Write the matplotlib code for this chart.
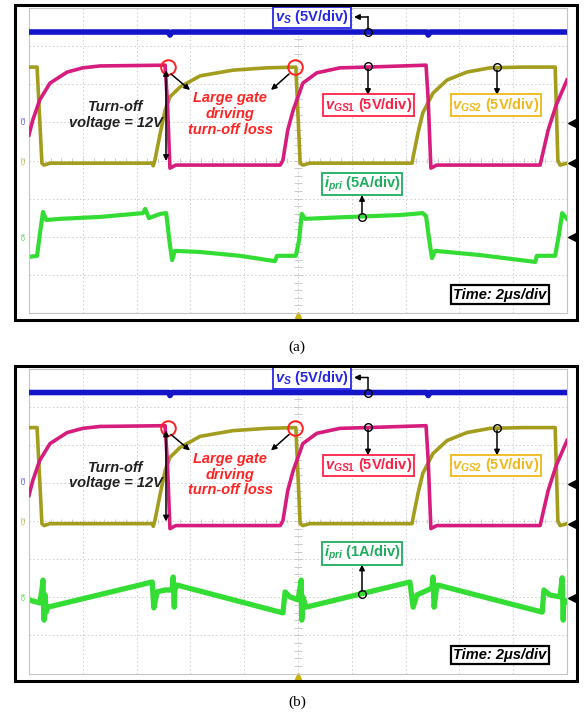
import numpy as np
import matplotlib
matplotlib.use("Agg")
import matplotlib.pyplot as plt
from matplotlib.patches import Rectangle

plt.rcParams['font.family'] = ['Liberation Sans', 'DejaVu Sans']
plt.rcParams['mathtext.fontset'] = 'custom'
plt.rcParams['mathtext.it'] = 'Liberation Sans:italic:bold'
plt.rcParams['mathtext.rm'] = 'Liberation Sans:bold'
plt.rcParams['mathtext.bf'] = 'Liberation Sans:bold'

W, H = 587, 716

# Scope traces in graticule divisions (10 x 8)
vs_t = [0, 2.60, 2.62, 2.66, 7.40, 7.42, 7.46, 10]
vs_v = [7.37, 7.37, 7.29, 7.37, 7.37, 7.29, 7.37, 7.37]

vgs1_t = [0, 0.07, 0.20, 0.39, 0.71, 1.00, 1.32, 2.53, 2.57, 2.62, 2.73,
          4.67, 4.72, 4.81, 4.91, 4.98, 5.09, 5.35, 5.78, 6.28, 7.38, 7.42,
          7.47, 7.58, 9.50, 9.65, 9.80, 10]
vgs1_v = [4.67, 5.06, 5.59, 6.03, 6.32, 6.43, 6.48, 6.50, 5.59, 3.80, 3.88,
          3.88, 4.01, 4.80, 5.32, 5.59, 6.03, 6.30, 6.43, 6.45, 6.50, 5.59,
          3.80, 3.88, 3.88, 4.80, 5.46, 6.11]

vgs2_t = [0, 0.15, 0.24, 0.28, 0.39, 2.29, 2.31, 2.34, 2.44, 2.53, 2.62,
          2.81, 3.18, 3.79, 4.42, 4.96, 5.04, 5.09, 5.22, 7.12, 7.14, 7.23,
          7.32, 7.51, 7.77, 8.14, 8.57, 9.18, 9.78, 9.83, 9.87, 10]
vgs2_v = [6.45, 6.45, 3.93, 3.88, 3.93, 3.93, 3.86, 4.01, 4.72, 5.32, 5.67,
          5.93, 6.22, 6.37, 6.43, 6.45, 3.93, 3.88, 3.93, 3.93, 4.09, 4.72,
          5.25, 5.77, 6.11, 6.32, 6.43, 6.45, 6.45, 4.01, 3.88, 3.93]

ipri_a_t = [0, 0.15, 0.20, 0.26, 0.32, 0.58, 1.32, 2.12, 2.16, 2.23, 2.44,
            2.55, 2.62, 2.66, 2.71, 3.18, 3.92, 4.57, 4.61, 4.96, 5.02, 5.07,
            5.13, 5.97, 6.90, 7.32, 7.38, 7.44, 7.49, 7.55, 8.38, 9.41, 9.44,
            9.78, 9.85, 9.91, 10]
ipri_a_v = [1.47, 1.50, 2.05, 2.65, 2.44, 2.47, 2.52, 2.62, 2.73, 2.49, 2.60,
            2.62, 1.78, 1.39, 1.63, 1.60, 1.50, 1.36, 1.50, 1.50, 1.91, 2.60,
            2.47, 2.52, 2.57, 2.62, 2.54, 1.91, 1.44, 1.63, 1.52, 1.34, 1.50,
            1.50, 2.05, 2.62, 2.47]

ipri_b_t = [0, 0.20, 0.24, 0.26, 0.28, 0.30, 0.32, 0.35, 2.29, 2.32, 2.38,
            2.53, 2.66, 2.68, 2.70, 2.71, 2.75, 4.72, 4.76, 4.85, 5.00, 5.06,
            5.07, 5.09, 5.15, 7.08, 7.14, 7.21, 7.49, 7.51, 7.53, 7.57, 7.60,
            9.54, 9.57, 9.68, 9.87, 9.91, 9.93, 9.94, 10]
ipri_b_v = [1.93, 1.85, 2.19, 2.45, 1.40, 2.06, 1.61, 1.74, 2.40, 1.72, 2.14,
            2.19, 2.19, 2.53, 1.74, 2.19, 2.32, 1.59, 2.14, 2.01, 1.93, 2.45,
            1.40, 2.01, 1.74, 2.40, 1.74, 2.06, 2.24, 2.53, 1.74, 2.19, 2.32,
            1.61, 2.19, 2.06, 2.01, 2.51, 1.40, 1.93, 1.88]

BLUE = '#1414c8'
MAGENTA = '#d61c7c'
OLIVE = '#a39d1e'
GREEN = '#33dd33'


def P(x, y):
    '''reference pixel (relative to panel a) -> graticule divisions'''
    return (x - 29) / 53.8, (313 - y) / 38.125


def label_box(ax, x, y, text, color, ec=None):
    ax.text(*P(x, y), text, color=color, fontsize=10.5, fontweight='bold',
            ha='center', va='center', zorder=10,
            bbox=dict(boxstyle='square,pad=0.12', fc='white',
                      ec=ec or color, lw=1.3))


def arrow(ax, start, end, style='-|>'):
    ax.annotate('', xy=P(*end), xytext=P(*start), zorder=9,
                arrowprops=dict(arrowstyle=style, color='black', lw=1.1,
                                mutation_scale=8, shrinkA=0, shrinkB=0))


def marker(ax, x, y, size=5.5):
    ax.plot(*P(x, y), 'o', ms=size, mfc='none', mec='black', mew=1.0,
            zorder=9)


def draw_panel(fig, dy, ipri_t, ipri_v, ipri_lw, ipri_text, box_y, mark_y,
               caption, cap_y):
    ax = fig.add_axes([29 / W, 1 - (313 + dy) / H, 538 / W, 305 / H])
    ax.set_xlim(0, 10)
    ax.set_ylim(0, 8)
    ax.set_xticks([])
    ax.set_yticks([])
    for s in ax.spines.values():
        s.set_color('#c4c4c4')
        s.set_linewidth(0.8)

    # graticule
    for i in range(1, 10):
        ax.axvline(i, color='#cdcdcd', lw=0.7, ls=(0, (1.5, 2.5)), zorder=0)
    for j in range(1, 8):
        ax.axhline(j, color='#cdcdcd', lw=0.7, ls=(0, (1.5, 2.5)), zorder=0)
    ax.vlines(np.arange(0.2, 10, 0.2), 3.94, 4.06, color='#c4c4c4', lw=0.6)
    ax.hlines(np.arange(0.2, 8, 0.2), 4.92, 5.08, color='#c4c4c4', lw=0.6)

    # traces
    ax.plot(ipri_t, ipri_v, color=GREEN, lw=ipri_lw, zorder=2)
    ax.plot(vgs2_t, vgs2_v, color=OLIVE, lw=2.6, zorder=3)
    ax.plot(vgs1_t, vgs1_v, color=MAGENTA, lw=2.6, zorder=4)
    ax.plot(vs_t, vs_v, color=BLUE, lw=4.0, zorder=5)

    # channel reference markers
    for yy in (123, 163, 237):
        ax.plot(*P(572, yy), '<', ms=6, color='black', clip_on=False)
    for yy, txt, c in ((120, 'C3', '#3030e0'), (160, 'C2', OLIVE),
                       (236, 'C4', '#30d030')):
        ax.text(*P(24, yy), txt, color=c, fontsize=4.5, rotation=90,
                ha='center', va='center', clip_on=False)
    ax.plot(*P(298, 315), '^', ms=4, color='#c8b400', clip_on=False)

    # frame of the scope screen
    fig.patches.append(Rectangle((15 / W, 1 - (320 + dy) / H), 562 / W,
                                 315 / H, transform=fig.transFigure,
                                 fill=False, ec='black', lw=2.2))

    # annotations
    for cx in (168, 295):
        ax.plot(*P(cx, 67), 'o', ms=10.5, mfc='none', mec='#ff2020',
                mew=1.4, zorder=8, clip_on=False)
    arrow(ax, (171, 74), (190, 90))
    arrow(ax, (289, 74), (271, 90))
    arrow(ax, (166, 70), (166, 161), style='<|-|>')
    ax.text(*P(230, 114), 'Large gate\ndriving\nturn-off loss',
            color='#ff2424', fontsize=10.5, fontweight='bold',
            style='italic', ha='center', va='center', linespacing=1.15,
            zorder=10)
    ax.text(*P(116, 115), 'Turn-off\nvoltage = 12V', color='#222222',
            fontsize=10.5, fontweight='bold', style='italic', ha='center',
            va='center', linespacing=1.15, zorder=10)

    label_box(ax, 312, 17.5, r'$v_S$ (5V/div)', '#2626e6')
    marker(ax, 368, 32)
    ax.plot(*zip(P(368, 29), P(368, 17)), color='black', lw=1.1, zorder=9)
    arrow(ax, (368, 17), (354, 17))

    label_box(ax, 368.5, 105, r'$v_{GS1}$ (5V/div)', '#ff2048')
    marker(ax, 368, 66)
    arrow(ax, (368, 69), (368, 95))

    label_box(ax, 496, 105, r'$v_{GS2}$ (5V/div)', '#f0b818')
    marker(ax, 497, 67)
    arrow(ax, (497, 70), (497, 95))

    label_box(ax, 362, box_y, r'$i_{pri}$ ' + ipri_text, '#1fae5e')
    marker(ax, 362, mark_y)
    arrow(ax, (362, mark_y - 3), (362, box_y + 11))

    ax.text(*P(500, 294.5), r'Time: 2μs/div', color='black', fontsize=10.5,
            fontweight='bold', style='italic', ha='center', va='center',
            zorder=10, bbox=dict(boxstyle='square,pad=0.15', fc='white',
                                 ec='black', lw=1.6))

    fig.text(297 / W, 1 - cap_y / H, caption, family='Liberation Serif',
             fontsize=11, ha='center', va='center')
    return ax


def main():
    fig = plt.figure(figsize=(W / 100, H / 100), dpi=100)
    draw_panel(fig, 0, ipri_a_t, ipri_a_v, 3.0, '(5A/div)', 184, 217,
               '(a)', 347)
    draw_panel(fig, 360.5, ipri_b_t, ipri_b_v, 3.8, '(1A/div)', 193, 233.5,
               '(b)', 702)
    fig.savefig('out.png', dpi=100)


if __name__ == "__main__":
    main()
